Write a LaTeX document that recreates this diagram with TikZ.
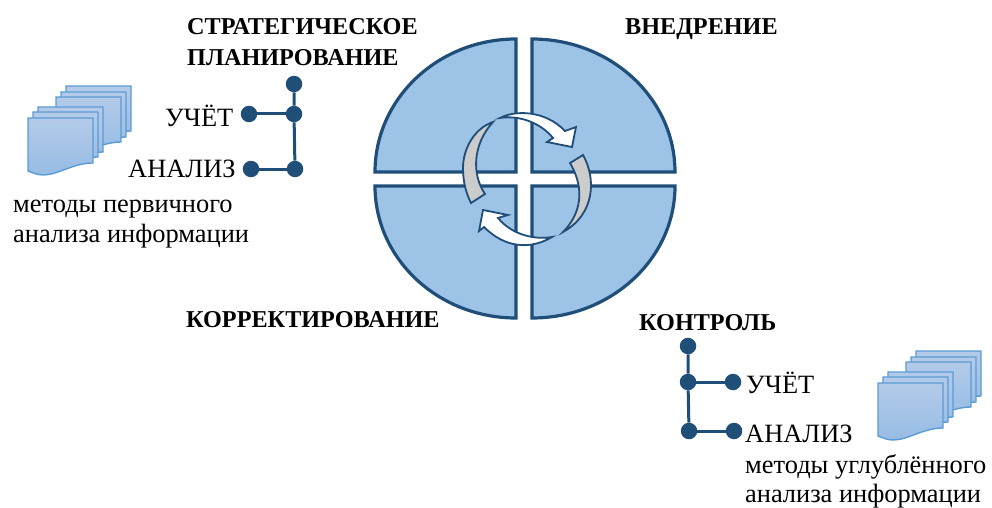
\documentclass[tikz,border=0pt]{standalone}
\usepackage{fontspec}
\setmainfont{Liberation Serif}
\definecolor{navy_}{HTML}{1F4E79}
\definecolor{sky_}{HTML}{9DC3E6}
\definecolor{edge_}{HTML}{5B9BD5}
\definecolor{pale_}{HTML}{B3CBE8}
\definecolor{deep_}{HTML}{97BCE5}
\tikzset{
  quarter_/.style = {draw=navy_, line width=3.2pt, fill=sky_},
  turn_/.style    = {draw=navy_, line width=1.8pt, fill=white, line join=miter},
  back_/.style    = {draw=navy_, line width=1.8pt, fill=black!20},
  dot_/.style     = {shape=circle, fill=navy_, inner sep=0pt, minimum size=16.5pt},
  link_/.style    = {draw=navy_, line width=3pt},
  head_/.style    = {anchor=base west, inner sep=0pt, font=\fontsize{24.2}{26}\selectfont\bfseries},
  word_/.style    = {anchor=base west, inner sep=0pt, font=\fontsize{26.4}{28}\selectfont},
  sheet_/.pic = {
    \path [draw=edge_, line width=1.4pt, top color=pale_, bottom color=deep_]
      (0,0) -- (65,0) -- (65,45) .. controls (45,45) and (30,57) .. (15,57)
      .. controls (10,57) and (5,55) .. (0,53) -- cycle;
  },
  stack_/.pic = {
    \foreach \dx/\dy in {38/-32,33/-26,28/-21,10/-11,5/-6,0/0}
      \pic at (\dx,\dy) {sheet_};
  }
}
\begin{document}
\begin{tikzpicture}[x=1pt, y=-1pt]
\useasboundingbox (0,0) rectangle (992,508);

\draw [quarter_] (516,39) -- (516,172) -- (375,172) arc [start angle=180, end angle=90, x radius=141pt, y radius=133pt] -- cycle;
\draw [quarter_] (532,39) arc [start angle=90, end angle=0, x radius=143pt, y radius=133pt] -- (532,172) -- cycle;
\draw [quarter_] (375,186) -- (516,186) -- (516,318) arc [start angle=270, end angle=180, x radius=141pt, y radius=132pt] -- cycle;
\draw [quarter_] (532,186) -- (675,186) arc [start angle=0, end angle=-90, x radius=143pt, y radius=132pt] -- cycle;

\draw [back_] (493,122) .. controls (475,128) and (463,148) .. (463,168) .. controls (463,182) and (466,193) .. (471,203) -- (485,194) .. controls (472,175) and (472,145) .. cycle;
\draw [back_] (570,163) -- (583,155) .. controls (597,180) and (594,215) .. (563,232) .. controls (580,215) and (586,190) .. cycle;
\draw [turn_] (500,118) .. controls (515,110) and (545,110) .. (565,131) -- (576,127) -- (572,147) -- (547,142) -- (553,138) .. controls (540,122) and (518,115) .. cycle;
\draw [turn_] (479,231) -- (483,210) -- (508,215) -- (498,218) .. controls (512,235) and (535,240) .. (552,237) .. controls (530,250) and (505,248) .. (484,227) -- cycle;

\node [head_] (strategy) at (187,35) {СТРАТЕГИЧЕСКОЕ};
\node [head_] (planning) at (187,66) {ПЛАНИРОВАНИЕ};
\node [head_] (rollout) at (625,35) {ВНЕДРЕНИЕ};
\node [head_] (correction) at (186,327) {КОРРЕКТИРОВАНИЕ};
\node [head_] (control) at (639,330) {КОНТРОЛЬ};

\node [dot_] (l_top) at (294,84) {};
\node [dot_] (l_mid) at (294,114) {};
\node [dot_] (l_low) at (295,169) {};
\node [dot_] (l_acc) at (249,114) {};
\node [dot_] (l_ana) at (251,169) {};
\draw [link_] (l_top) -- (l_mid) -- (l_low);
\draw [link_] (l_acc) -- (l_mid);
\draw [link_] (l_ana) -- (l_low);

\node [dot_] (r_top) at (688,346) {};
\node [dot_] (r_mid) at (688,382) {};
\node [dot_] (r_low) at (689,431) {};
\node [dot_] (r_acc) at (733,382) {};
\node [dot_] (r_ana) at (734,431) {};
\draw [link_] (r_top) -- (r_mid) -- (r_low);
\draw [link_] (r_acc) -- (r_mid);
\draw [link_] (r_ana) -- (r_low);

\node [word_] (l_count) at (165,127) {УЧЁТ};
\node [word_] (l_study) at (128,177) {АНАЛИЗ};
\node [word_] (r_count) at (746,393) {УЧЁТ};
\node [word_] (r_study) at (745,442) {АНАЛИЗ};

\node [word_] (l_note1) at (13,212) {методы первичного};
\node [word_] (l_note2) at (13,242) {анализа информации};
\node [word_] (r_note1) at (745,473) {методы углублённого};
\node [word_] (r_note2) at (745,502) {анализа информации};

\pic at (28,118) {stack_};
\pic at (878,383) {stack_};
\end{tikzpicture}
\end{document}
